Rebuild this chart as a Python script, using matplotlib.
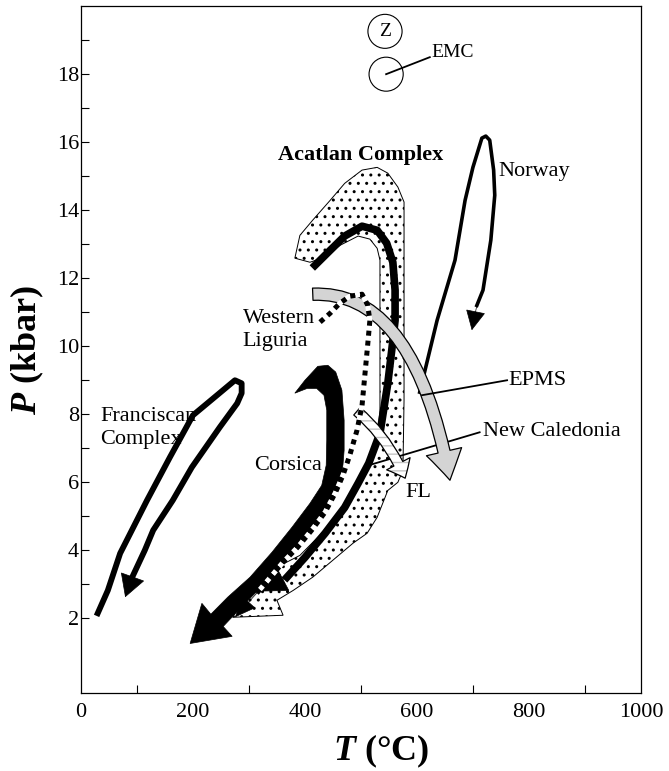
import numpy as np
import matplotlib
matplotlib.use("Agg")
import matplotlib.pyplot as plt
from matplotlib.patches import Polygon, Ellipse, FancyArrowPatch
from matplotlib.path import Path

plt.rcParams['font.family'] = ['Liberation Serif', 'DejaVu Serif']
plt.rcParams['mathtext.fontset'] = 'custom'
plt.rcParams['mathtext.it'] = 'Liberation Serif:italic:bold'
plt.rcParams['mathtext.rm'] = 'Liberation Serif:bold'
plt.rcParams['hatch.linewidth'] = 1.0

# P-T paths (T in degC, P in kbar)
franciscan_T = [30, 48, 70, 118, 159, 200, 243, 275, 287, 287, 279, 248, 198, 164, 129, 114, 93]
franciscan_P = [2.15, 2.82, 3.91, 5.47, 6.74, 7.97, 8.56, 9.0, 8.91, 8.62, 8.32, 7.62, 6.44, 5.47, 4.59, 4.0, 3.26]
franciscan_tip = (79, 2.62)

norway_T = [605, 636, 668, 686, 700, 716, 723, 730, 737, 739, 732, 718, 707]
norway_P = [8.65, 10.76, 12.53, 14.29, 15.26, 16.12, 16.18, 16.06, 15.18, 14.44, 13.12, 11.65, 11.2]
norway_tip = (698, 10.47)

acatlan_T = [418, 445, 471, 502, 529, 546, 557, 561, 561, 555, 548, 534, 514, 495, 471, 436, 400, 368]
acatlan_P = [12.38, 12.82, 13.24, 13.53, 13.41, 13.03, 12.47, 11.65, 10.76, 9.88, 8.91, 7.44, 6.56, 5.97, 5.26, 4.5, 3.79, 3.21]
acatlan_tip = (320, 2.79)

# stippled field of the Acatlan Complex
acatlan_field_T = [382, 391, 414, 445, 471, 502, 529, 548, 566, 577, 577, 577, 575, 566, 548, 529, 511, 486,
                   450, 414, 379, 350, 361, 271, 314, 346, 391, 430, 466, 491, 511, 530, 534, 534, 529, 516,
                   495, 463, 430, 409]
acatlan_field_P = [12.59, 13.26, 13.71, 14.29, 14.79, 15.18, 15.26, 15.09, 14.68, 14.24, 11.35, 8.41, 6.35, 6.0,
                   5.76, 4.97, 4.5, 4.21, 3.71, 3.21, 2.82, 2.53, 2.09, 2.03, 3.35, 3.47, 3.85, 4.5, 5.26, 5.97,
                   6.56, 7.44, 8.12, 12.53, 12.88, 13.15, 13.24, 12.97, 12.59, 12.47]

liguria_T = [427, 445, 462, 480, 502, 512, 516, 512, 507, 502, 493, 480, 468, 454, 436, 412, 387, 361, 337, 314]
liguria_P = [10.71, 10.97, 11.26, 11.47, 11.53, 11.21, 10.76, 10.03, 9.15, 8.26, 7.53, 6.79, 6.21, 5.68, 5.12,
             4.59, 4.09, 3.65, 3.18, 2.74]
liguria_tip = (275, 2.03)

# Corsica: wide tapered band ending in a large head
corsica_T = [382, 400, 423, 441, 455, 466, 470, 470, 466, 454, 430, 400, 364, 329, 293, 254, 270, 195, 216,
             232, 262, 302, 341, 377, 409, 430, 438, 439, 439, 434, 421, 404]
corsica_P = [8.62, 9.0, 9.41, 9.44, 9.24, 8.71, 7.82, 6.94, 6.12, 5.62, 5.03, 4.38, 3.71, 3.03, 2.44, 1.76,
             1.47, 1.26, 2.44, 2.12, 2.62, 3.21, 3.94, 4.68, 5.38, 5.91, 6.5, 7.24, 8.12, 8.56, 8.76, 8.76]

# EPMS and FL broad arrows (start, bend, end)
epms_T = [414, 596, 659]
epms_P = [11.53, 11.65, 6.06]
fl_T = [493, 548, 579]
fl_P = [8.09, 7.32, 6.12]

# EMC circles
emc_T = [543, 545]
emc_P = [19.26, 18.0]

fig = plt.figure(figsize=(6.69, 7.71), dpi=100)
ax = fig.add_axes([0.121, 0.101, 0.837, 0.891])


def head(tail, tip, length, width, z):
    ax.annotate('', xy=tip, xytext=tail,
                arrowprops=dict(arrowstyle='-|>,head_length=%g,head_width=%g' % (length, width),
                                color='black', lw=0.5, shrinkA=0, shrinkB=0, mutation_scale=1,
                                joinstyle='miter'),
                zorder=z)


def bezier(T, P):
    return Path(list(zip(T, P)), [Path.MOVETO, Path.CURVE3, Path.CURVE3])


# Acatlan field
ax.add_patch(Polygon(np.column_stack([acatlan_field_T, acatlan_field_P]), closed=True,
                     facecolor='white', edgecolor='black', lw=0.7, hatch='..', zorder=1))

# Franciscan
ax.plot(franciscan_T, franciscan_P, color='black', lw=4.2, solid_joinstyle='round', zorder=2)
head((franciscan_T[-1], franciscan_P[-1]), franciscan_tip, 15, 8.5, 2)

# Norway
ax.plot(norway_T, norway_P, color='black', lw=2.6, solid_joinstyle='round', zorder=2)
head((norway_T[-1], norway_P[-1]), norway_tip, 13, 6.5, 2)

# Acatlan path
ax.plot(acatlan_T, acatlan_P, color='black', lw=5.5, solid_joinstyle='round', zorder=3)
head((acatlan_T[-1], acatlan_P[-1]), acatlan_tip, 18, 9, 3)

# Corsica
ax.add_patch(Polygon(np.column_stack([corsica_T, corsica_P]), closed=True,
                     facecolor='black', edgecolor='black', lw=0.5, zorder=3))

# New Caledonia pointer (under FL arrow)
ax.plot([712, 520], [7.47, 6.53], color='black', lw=1.3, zorder=3.5)

# FL arrow
fl_style = 'simple,head_length=11.5,head_width=19,tail_width=7.2'
ax.add_patch(FancyArrowPatch(path=bezier(fl_T, fl_P), arrowstyle=fl_style, mutation_scale=1,
                             facecolor='white', edgecolor='#c4c4c4', lw=0, hatch='--', zorder=4))
ax.add_patch(FancyArrowPatch(path=bezier(fl_T, fl_P), arrowstyle=fl_style, mutation_scale=1,
                             facecolor='none', edgecolor='black', lw=0.9, zorder=4.1))

# EPMS arrow
ax.add_patch(FancyArrowPatch(path=bezier(epms_T, epms_P),
                             arrowstyle='simple,head_length=21,head_width=26,tail_width=8.8',
                             mutation_scale=1, facecolor='#d4d4d4', edgecolor='black', lw=0.9, zorder=4.2))

# Western Liguria dotted path
ax.plot(liguria_T, liguria_P, color='black', lw=3.6, linestyle=(0, (1, 1)), gapcolor='white',
        dash_capstyle='butt', zorder=5)
head((liguria_T[-1], liguria_P[-1]), liguria_tip, 14, 6, 5)

# EMC and pointers
for t, p in zip(emc_T, emc_P):
    ax.add_patch(Ellipse((t, p), 61, 1.0, facecolor='none', edgecolor='black', lw=0.8, zorder=5))
ax.plot([545, 623], [18.0, 18.5], color='black', lw=1.3, zorder=5)
ax.plot([609, 761], [8.56, 9.0], color='black', lw=1.3, zorder=6)

# labels
ax.text(543, 19.26, 'Z', fontsize=14, ha='center', va='center')
ax.text(625, 18.65, 'EMC', fontsize=14, ha='left', va='center')
ax.text(500, 15.62, 'Acatlan Complex', fontsize=16, fontweight='bold', ha='center', va='center')
ax.text(745, 15.15, 'Norway', fontsize=16, ha='left', va='center')
ax.text(289, 10.47, 'Western\nLiguria', fontsize=16, ha='left', va='center', linespacing=1.3)
ax.text(34, 7.6, 'Franciscan\nComplex', fontsize=16, ha='left', va='center', linespacing=1.3)
ax.text(764, 9.0, 'EPMS', fontsize=16, ha='left', va='center')
ax.text(718, 7.5, 'New Caledonia', fontsize=16, ha='left', va='center')
ax.text(430, 6.5, 'Corsica', fontsize=16, ha='right', va='center')
ax.text(580, 5.7, 'FL', fontsize=16, ha='left', va='center')

ax.set_xlim(0, 1000)
ax.set_ylim(-0.2, 20)
ax.set_xticks(range(0, 1001, 200))
ax.set_xticks(range(100, 1000, 200), minor=True)
ax.set_yticks(range(2, 19, 2))
ax.set_yticks(range(3, 20, 2), minor=True)
ax.tick_params(axis='x', which='major', length=0, pad=7, labelsize=16)
ax.tick_params(axis='x', which='minor', direction='in', length=6, width=0.8)
ax.tick_params(axis='y', which='both', direction='in', length=6, width=0.8)
ax.tick_params(axis='y', which='major', pad=1.5, labelsize=16)
for s in ax.spines.values():
    s.set_linewidth(0.9)

ax.set_xlabel(r'$T$ (°C)', fontsize=26, fontweight='bold')
ax.xaxis.set_label_coords(0.536, -0.058)
ax.set_ylabel(r'$P$ (kbar)', fontsize=26, fontweight='bold')
ax.yaxis.set_label_coords(-0.063, 0.50)

fig.savefig('out.png', dpi=100)
